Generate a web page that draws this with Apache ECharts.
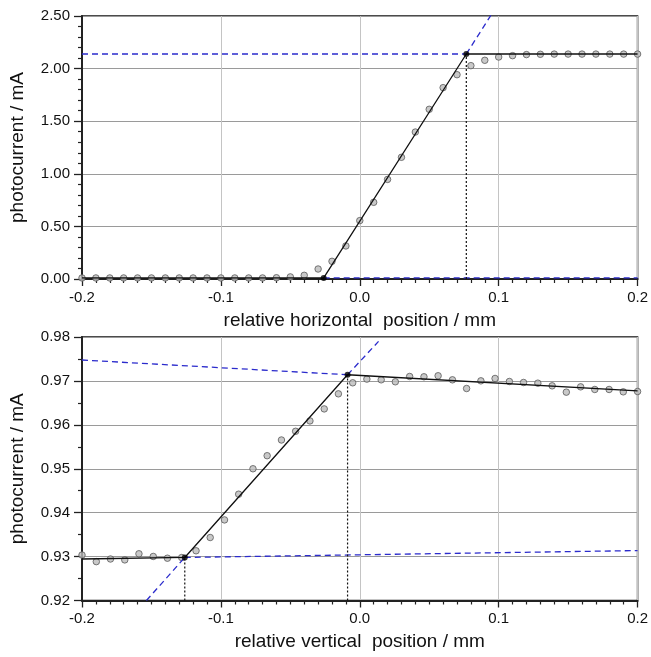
<!DOCTYPE html>
<html>
<head>
<meta charset="utf-8">
<script src="https://cdn.jsdelivr.net/npm/echarts@6/dist/echarts.min.js"></script>
<style>
  html, body { margin: 0; padding: 0; background: #ffffff; }
  #chart { width: 651px; height: 657px; }
</style>
</head>
<body>
<div id="chart"></div>
<script>
// ---- Horizontal scan (upper panel) ----
const horizPos = [
  -0.20, -0.19, -0.18, -0.17, -0.16, -0.15, -0.14, -0.13, -0.12, -0.11,
  -0.10, -0.09, -0.08, -0.07, -0.06, -0.05, -0.04, -0.03, -0.02, -0.01,
   0.00,  0.01,  0.02,  0.03,  0.04,  0.05,  0.06,  0.07,  0.08,  0.09,
   0.10,  0.11,  0.12,  0.13,  0.14,  0.15,  0.16,  0.17,  0.18,  0.19, 0.20
];
const horizCurrent = [
  0.010, 0.010, 0.010, 0.010, 0.010, 0.010, 0.010, 0.010, 0.010, 0.010,
  0.010, 0.010, 0.010, 0.010, 0.012, 0.020, 0.035, 0.095, 0.168, 0.314,
  0.555, 0.729, 0.947, 1.157, 1.397, 1.613, 1.819, 1.942, 2.028, 2.079,
  2.110, 2.123, 2.133, 2.136, 2.138, 2.138, 2.138, 2.138, 2.138, 2.138, 2.138
];
// piecewise-linear fit: dark level, edge slope, saturation level
const horizKneeLow  = [-0.026, 0.010];
const horizKneeHigh = [0.0767, 2.139];
const horizFit      = [[-0.20, 0.010], horizKneeLow, horizKneeHigh, [0.20, 2.139]];
const horizExtSat   = [[-0.20, 2.139], horizKneeHigh];
const horizExtSlope = [horizKneeHigh, [0.0960, 2.540]];
const horizExtDark  = [horizKneeLow, [0.20, 0.010]];
const horizDrop     = [[0.0767, 0.0], horizKneeHigh];

// ---- Vertical scan (lower panel) ----
const vertPos = [
  -0.2000, -0.1897, -0.1795, -0.1692, -0.1590, -0.1487, -0.1385, -0.1282, -0.1179, -0.1077,
  -0.0974, -0.0872, -0.0769, -0.0667, -0.0564, -0.0462, -0.0359, -0.0256, -0.0154, -0.0051,
   0.0051,  0.0154,  0.0256,  0.0359,  0.0462,  0.0564,  0.0667,  0.0769,  0.0872,  0.0974,
   0.1077,  0.1179,  0.1282,  0.1385,  0.1487,  0.1590,  0.1692,  0.1795,  0.1897,  0.2000
];
const vertCurrent = [
  0.93035, 0.92885, 0.92945, 0.92925, 0.93064, 0.93003, 0.92963, 0.92978, 0.93132, 0.93434,
  0.93835, 0.94421, 0.95000, 0.95297, 0.95655, 0.95853, 0.96089, 0.96363, 0.96706, 0.96957,
  0.97041, 0.97025, 0.96980, 0.97101, 0.97094, 0.97117, 0.97025, 0.96827, 0.97002, 0.97056,
  0.96987, 0.96964, 0.96949, 0.96888, 0.96744, 0.96865, 0.96805, 0.96805, 0.96751, 0.96759
];
const vertKneeLow  = [-0.1260, 0.92980];
const vertKneeHigh = [-0.0088, 0.97140];
const vertFit       = [[-0.20, 0.92945], vertKneeLow, vertKneeHigh, [0.20, 0.96774]];
const vertExtLow    = [vertKneeLow, [0.20, 0.93137]];
const vertExtHigh   = [[-0.20, 0.97476], vertKneeHigh];
const vertSlopeDown = [[-0.1536, 0.92], vertKneeLow];
const vertSlopeUp   = [vertKneeHigh, [0.0135, 0.97900]];
const vertDropLow   = [[-0.1260, 0.92], vertKneeLow];
const vertDropHigh  = [[-0.0088, 0.92], vertKneeHigh];

// ---- Axis settings ----
const posTicks   = { min: -0.2, max: 0.2, interval: 0.1 };
const horizTicks = { min: 0, max: 2.5, interval: 0.5 };
const vertTicks  = { min: 0.92, max: 0.98, interval: 0.01 };

const FONT = "'Liberation Sans', Arial, sans-serif";
const BLUE = '#2b2bcc';
const pts = (xs, ys) => xs.map((x, i) => [x, ys[i]]);

function xAxisFor(grid, title) {
  return {
    type: 'value', gridIndex: grid,
    min: posTicks.min, max: posTicks.max, interval: posTicks.interval,
    name: title, nameLocation: 'middle', nameGap: 32,
    nameTextStyle: { fontFamily: FONT, fontSize: 19, color: '#111' },
    axisLine: { show: true, onZero: false, lineStyle: { color: '#222', width: 2 } },
    axisTick: { show: true, length: 7, lineStyle: { color: '#222', width: 1.3 } },
    minorTick: { show: true, splitNumber: 10, length: 4, lineStyle: { color: '#222', width: 1.2 } },
    axisLabel: {
      margin: 11, fontFamily: FONT, fontSize: 15, color: '#111',
      formatter: v => (Math.abs(v) < 1e-9 ? 0 : v).toFixed(1)
    },
    splitLine: { show: true, lineStyle: { color: '#c4c4c4', width: 1 } }
  };
}

function yAxisFor(grid, t, minorSplit) {
  return {
    type: 'value', gridIndex: grid,
    min: t.min, max: t.max, interval: t.interval,
    name: 'photocurrent / mA', nameLocation: 'middle', nameGap: 55,
    nameTextStyle: { fontFamily: FONT, fontSize: 19, color: '#111' },
    axisLine: { show: true, onZero: false, lineStyle: { color: '#222', width: 2 } },
    axisTick: { show: true, length: 8, lineStyle: { color: '#222', width: 1.3 } },
    minorTick: { show: true, splitNumber: minorSplit, length: 4, lineStyle: { color: '#222', width: 1.2 } },
    axisLabel: {
      margin: 12, fontFamily: FONT, fontSize: 15, color: '#111',
      formatter: v => v.toFixed(2)
    },
    splitLine: { show: true, lineStyle: { color: '#9a9a9a', width: 1 } }
  };
}

function lineSeries(g, data, color, type, width, z) {
  return {
    type: 'line', xAxisIndex: g, yAxisIndex: g, data: data,
    showSymbol: false, symbol: 'none', silent: true, animation: false,
    lineStyle: { color: color, type: type, width: width }, z: z
  };
}

function panelSeries(g, xs, ys, fit, dashed, drops, knees) {
  const list = [];
  list.push({
    type: 'scatter', xAxisIndex: g, yAxisIndex: g, data: pts(xs, ys),
    symbol: 'circle', symbolSize: 6.5, animation: false, z: 2,
    itemStyle: { color: '#bcbcbc', borderColor: '#5a5a5a', borderWidth: 1 }
  });
  dashed.forEach(d => list.push(lineSeries(g, d, BLUE, [6, 4], 1.3, 3)));
  drops.forEach(d => list.push(lineSeries(g, d, '#111', [2, 2], 1.2, 3)));
  list.push(lineSeries(g, fit, '#111', 'solid', 1.3, 4));
  list.push({
    type: 'scatter', xAxisIndex: g, yAxisIndex: g, data: knees,
    symbol: 'circle', symbolSize: 6, animation: false, z: 5,
    itemStyle: { color: '#000' }
  });
  return list;
}

const chart = echarts.init(document.getElementById('chart'), null, { renderer: 'canvas' });
chart.setOption({
  backgroundColor: '#ffffff',
  animation: false,
  grid: [
    { left: 80, right: 11.5, top: 16, height: 263, show: true, borderColor: '#111', borderWidth: 1.5, backgroundColor: 'transparent' },
    { left: 80, right: 11.5, top: 337, height: 263.5, show: true, borderColor: '#111', borderWidth: 1.5, backgroundColor: 'transparent' }
  ],
  xAxis: [
    xAxisFor(0, 'relative horizontal  position / mm'),
    xAxisFor(1, 'relative vertical  position / mm')
  ],
  yAxis: [
    yAxisFor(0, horizTicks, 5),
    yAxisFor(1, vertTicks, 2)
  ],
  series: [].concat(
    panelSeries(0, horizPos, horizCurrent, horizFit,
      [horizExtSat, horizExtSlope, horizExtDark], [horizDrop], [horizKneeLow, horizKneeHigh]),
    panelSeries(1, vertPos, vertCurrent, vertFit,
      [vertExtLow, vertExtHigh, vertSlopeDown, vertSlopeUp], [vertDropLow, vertDropHigh], [vertKneeLow, vertKneeHigh])
  )
});
</script>
</body>
</html>
